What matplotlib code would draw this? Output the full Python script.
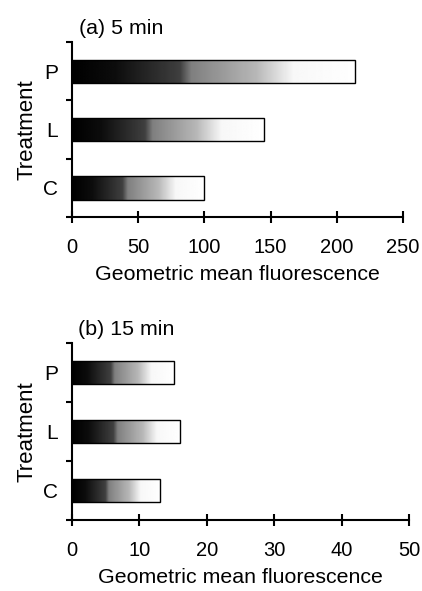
import matplotlib.pyplot as plt
import numpy as np
from matplotlib.patches import Rectangle

plt.rcParams['font.family'] = ['Liberation Sans', 'DejaVu Sans']

# data
treatments = ['C', 'L', 'P']
fluor_5min = [100, 145, 214]
fluor_15min = [13.0, 16.1, 15.1]
xticks_5 = [0, 50, 100, 150, 200, 250]
xticks_15 = [0, 10, 20, 30, 40, 50]

# black -> white ramp used to fill each bar (dark first, white at the end)
t = np.linspace(0, 1, 256)
ramp = np.interp(t, [0, 0.15, 0.38, 0.42, 0.65, 0.78, 1],
                 [0, 0.05, 0.25, 0.5, 0.72, 0.97, 1])
ramp = np.tile(ramp, (2, 1))


def panel(ax, values, ticks, title):
    pos = np.arange(len(values))
    h = 0.4
    for y, v in zip(pos, values):
        im = ax.imshow(ramp, cmap='gray', vmin=0, vmax=1, aspect='auto',
                       extent=(0, v, y - h / 2, y + h / 2), interpolation='bilinear')
        rect = Rectangle((0, y - h / 2), v, h, fill=False, edgecolor='black', lw=1.0)
        ax.add_patch(rect)
        im.set_clip_path(rect)
    ax.set_xlim(ticks[0], ticks[-1])
    ax.set_ylim(-0.5, len(values) - 0.5)
    ax.set_xticks(ticks)
    ax.set_yticks(pos)
    ax.set_yticklabels(treatments)
    ax.set_yticks(np.arange(len(values) + 1) - 0.5, minor=True)
    ax.tick_params(axis='y', which='major', length=0, pad=10, labelsize=15)
    ax.tick_params(axis='y', which='minor', length=4, width=1.5, direction='out')
    ax.tick_params(axis='x', length=8, width=1.5, direction='inout', pad=11, labelsize=14.5)
    for s in ['top', 'right']:
        ax.spines[s].set_visible(False)
    for s in ['left', 'bottom']:
        ax.spines[s].set_linewidth(1.5)
    ax.set_xlabel('Geometric mean fluorescence', fontsize=15.4, labelpad=6)
    ax.set_ylabel('Treatment', fontsize=16, labelpad=4)
    ax.set_title(title, loc='left', fontsize=15.4, x=0.02, pad=6)


fig = plt.figure(figsize=(4.22, 5.91), dpi=100)
ax1 = fig.add_axes([0.1706, 0.6328, 0.784, 0.296])
ax2 = fig.add_axes([0.170, 0.120, 0.800, 0.2996])

panel(ax1, fluor_5min, xticks_5, '(a) 5 min')
panel(ax2, fluor_15min, xticks_15, '(b) 15 min')

fig.savefig('out.png', dpi=100)
